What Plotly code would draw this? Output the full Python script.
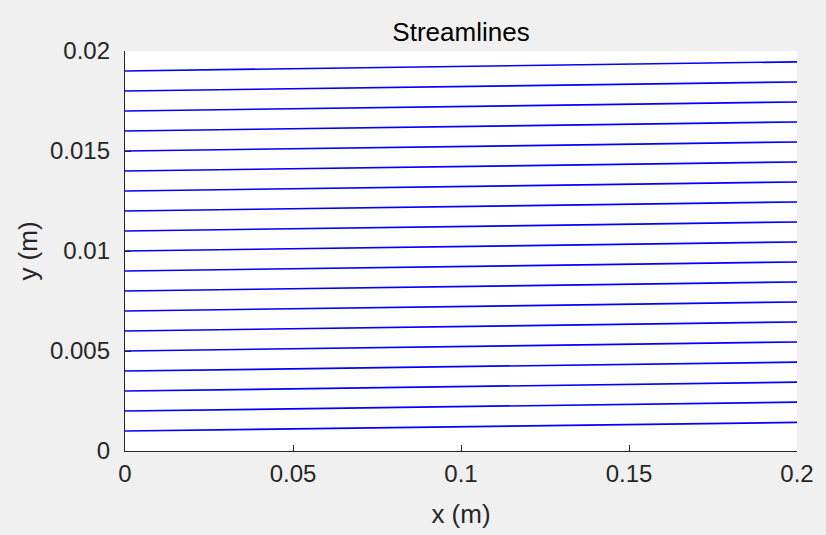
import plotly.graph_objects as go

# Streamline start (x = 0) and end (x = 0.2) heights
x_pts = [0.0, 0.2]
y_start = [0.001, 0.002, 0.003, 0.004, 0.005, 0.006, 0.007, 0.008, 0.009, 0.010,
           0.011, 0.012, 0.013, 0.014, 0.015, 0.016, 0.017, 0.018, 0.019]
y_end = [0.00143, 0.00244, 0.00344, 0.00444, 0.00545, 0.00645, 0.00745, 0.00845,
         0.00945, 0.01045, 0.01145, 0.01245, 0.01345, 0.01445, 0.01545, 0.01645,
         0.01745, 0.01845, 0.01946]

x_ticks = [0, 0.05, 0.1, 0.15, 0.2]
x_tick_text = ["0", "0.05", "0.1", "0.15", "0.2"]
y_ticks = [0, 0.005, 0.01, 0.015, 0.02]
y_tick_text = ["0", "0.005", "0.01", "0.015", "0.02"]

fig = go.Figure()
for ys, ye in zip(y_start, y_end):
    fig.add_trace(go.Scatter(x=x_pts, y=[ys, ye], mode="lines",
                             line=dict(color="rgb(0,0,255)", width=1.7),
                             showlegend=False, hoverinfo="skip"))

font_family = "Liberation Sans, Arial, sans-serif"
axis_col = "#262626"

fig.update_layout(
    width=826, height=535,
    margin=dict(l=125, r=29, t=51, b=84),
    paper_bgcolor="#f0f0f0",
    plot_bgcolor="white",
    font=dict(family=font_family, size=24, color=axis_col),
    title=dict(text="Streamlines", x=0.5 + (125 - 29) / 2 / 826, xanchor="center",
               y=1 - 32 / 535, yanchor="middle", yref="container",
               font=dict(size=26, color="black")),
    xaxis=dict(range=[0, 0.2], tickvals=x_ticks, ticktext=x_tick_text,
               showgrid=False, zeroline=False, showline=True, linecolor=axis_col,
               linewidth=1.3, ticks="inside", ticklen=6, tickcolor=axis_col,
               tickwidth=1, mirror=False, ticklabelstandoff=1,
               title=dict(text="x (m)", standoff=18, font=dict(size=26)),
               tickfont=dict(size=24)),
    yaxis=dict(range=[0, 0.02], tickvals=y_ticks, ticktext=y_tick_text,
               showgrid=False, zeroline=False, showline=True, linecolor=axis_col,
               linewidth=1.3, ticks="inside", ticklen=6, tickcolor=axis_col,
               tickwidth=1, mirror=False, ticklabelstandoff=9,
               title=dict(text="y (m)", standoff=4, font=dict(size=26)),
               tickfont=dict(size=24)),
)

fig.write_html("out.html")
